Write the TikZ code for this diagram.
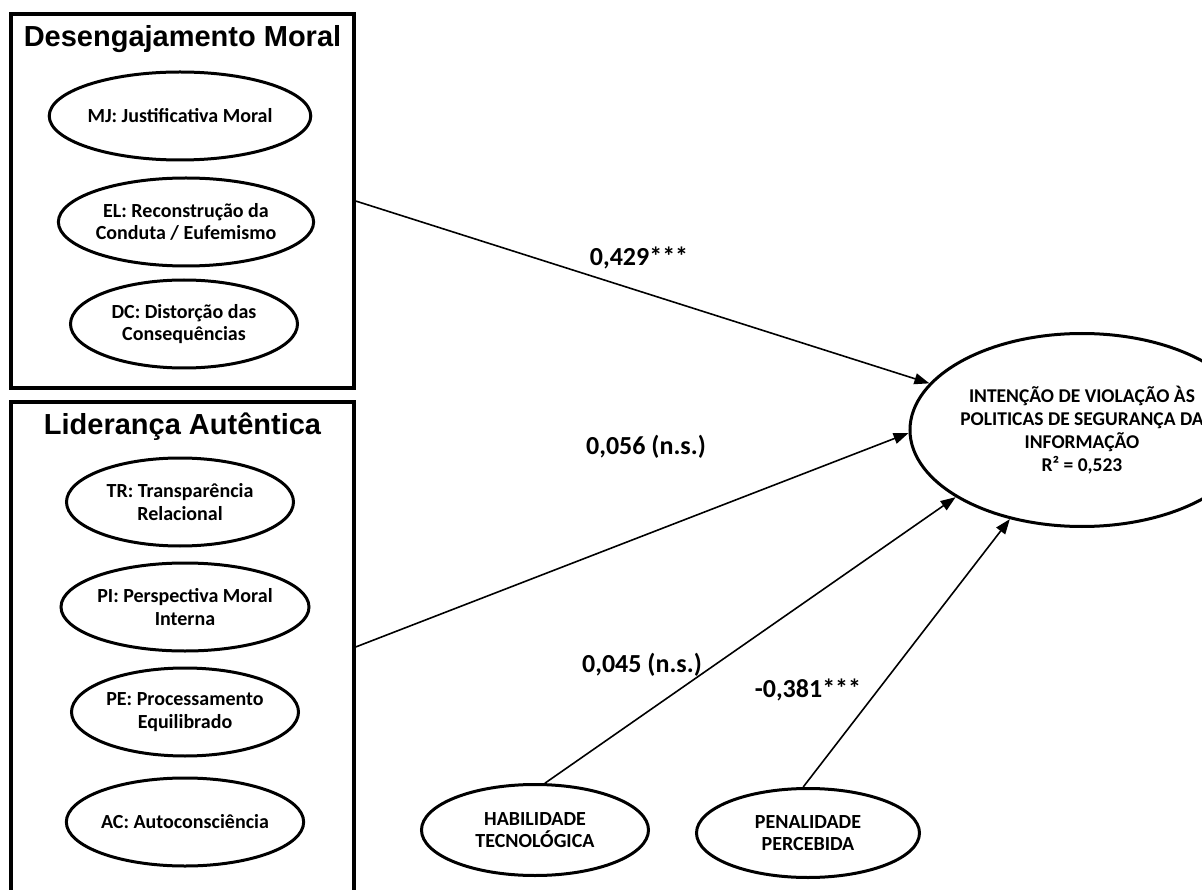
\documentclass[tikz,border=0pt]{standalone}
\usepackage{fontspec}
\setmainfont{Carlito}
\newfontfamily\titlefont{Liberation Sans}
\usetikzlibrary{shapes.geometric,arrows.meta}
\begin{document}
\begin{tikzpicture}[x=1pt,y=-1pt,
  lat/.style={ellipse,draw,line width=3pt,minimum width=227pt,minimum height=88pt,inner sep=0pt,align=center,font=\fontsize{20}{22.5}\selectfont\bfseries},
  grp/.style={draw,line width=3.3pt,inner sep=0pt},
  pathline/.style={line width=1.6pt,-{Triangle[length=15pt,width=11pt]}},
  coef/.style={font=\fontsize{26}{30}\selectfont\bfseries,inner sep=0pt},
  ttl/.style={font=\titlefont\fontsize{29}{34}\selectfont\bfseries,inner sep=0pt,anchor=base}]
\useasboundingbox (0,0) rectangle (1202,890);
\clip (0,0) rectangle (1202,890);
\fill[white] (0,0) rectangle (1202,890);
% group boxes
\node[grp,minimum width=343pt,minimum height=374pt] (dm) at (182.5,201) {};
\node[grp,minimum width=343pt,minimum height=490pt] (la) at (182.5,647) {};
\node[ttl] (t1) at (182.5,47) {Desengajamento Moral};
\node[ttl] (t2) at (182.5,435) {Liderança Autêntica};
% dimensions
\node[lat] (mj) at (180,116) {MJ: Justificativa Moral};
\node[lat] (el) at (186,222) {EL: Reconstrução da\\Conduta / Eufemismo};
\node[lat] (dc) at (184,324) {DC: Distorção das\\Consequências};
\node[lat] (tr) at (180,502) {TR: Transparência\\Relacional};
\node[lat] (pi) at (185,607) {PI: Perspectiva Moral\\Interna};
\node[lat] (pe) at (185,712) {PE: Processamento\\Equilibrado};
\node[lat] (ac) at (185,822) {AC: Autoconsciência};
% other constructs
\node[lat,minimum height=91pt] (hab) at (535,830) {HABILIDADE\\TECNOLÓGICA};
\node[lat,minimum width=223pt,minimum height=89pt] (pen) at (808,833) {PENALIDADE\\PERCEBIDA};
\node[lat,minimum width=261pt,minimum height=193pt,font=\fontsize{19.5}{23}\selectfont\bfseries] (iv) at (1082,430)
  {INTENÇÃO DE VIOLAÇÃO ÀS\\POLITICAS DE SEGURANÇA DA\\INFORMAÇÃO\\R² = 0,523};
% paths
\draw[pathline] (dm.east) -- (iv.163);
\draw[pathline] (la.east) -- (iv.181);
\draw[pathline] (hab.78) -- (iv.208);
\draw[pathline] (pen.96) -- (iv.231);
% coefficients
\node[coef] (c1) at (639,258) {0,429***};
\node[coef] (c2) at (646,447) {0,056 (n.s.)};
\node[coef] (c3) at (642,665) {0,045 (n.s.)};
\node[coef] (c4) at (808,690) {-0,381***};
\end{tikzpicture}
\end{document}
